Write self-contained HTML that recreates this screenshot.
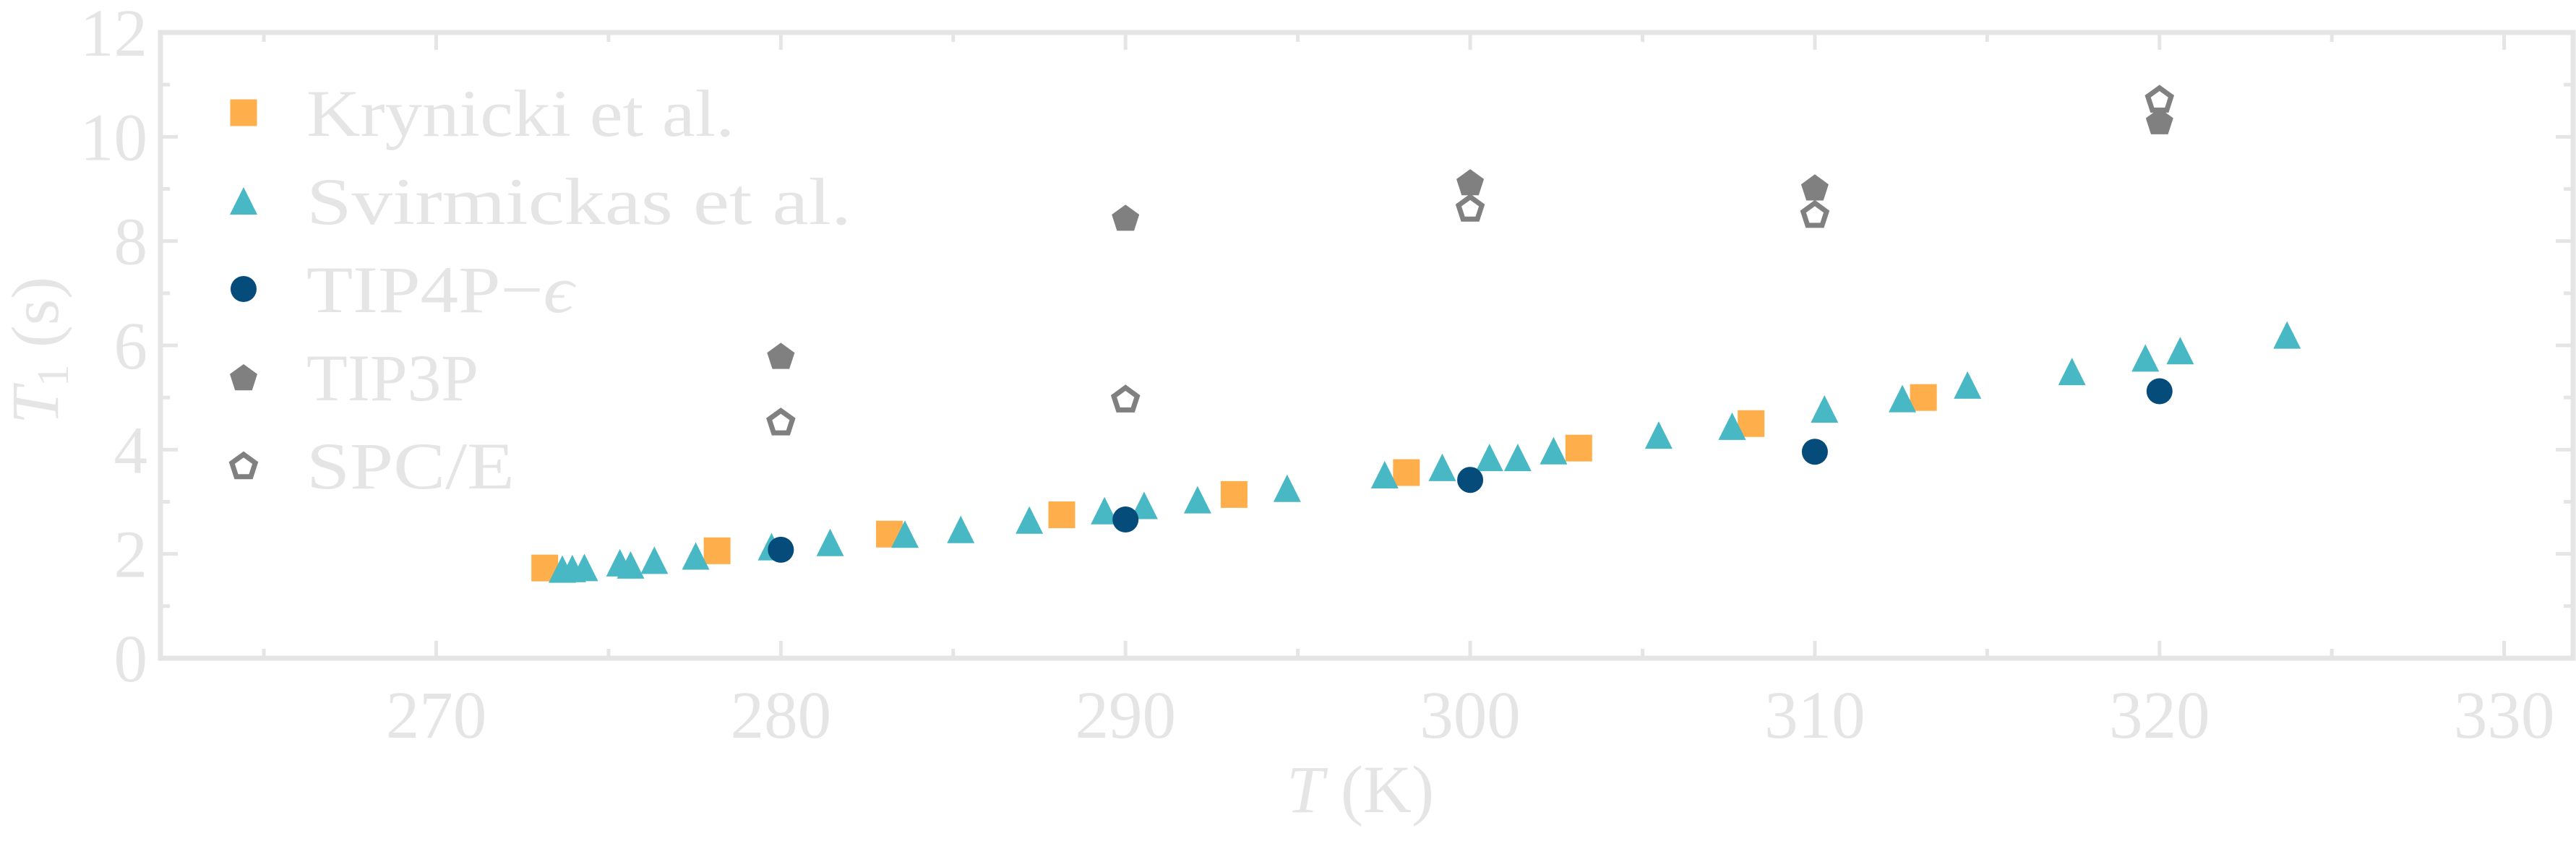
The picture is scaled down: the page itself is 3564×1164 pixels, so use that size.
<!DOCTYPE html>
<html><head><meta charset="utf-8">
<style>
html,body{margin:0;padding:0;background:#fff;}
svg{display:block;font-family:"Liberation Serif",serif;}
</style></head>
<body>
<svg id="chart" width="3564" height="1164" viewBox="0 0 3564 1164" xmlns="http://www.w3.org/2000/svg">
<g id="plot"></g>
</svg>
<script>
const xTicks = [270, 280, 290, 300, 310, 320, 330];
const yTicks = [0, 2, 4, 6, 8, 10, 12];
const kryT = [273.15, 278.15, 283.15, 288.15, 293.15, 298.15, 303.15, 308.15, 313.15];
const kryV = [1.73, 2.06, 2.38, 2.75, 3.14, 3.56, 4.03, 4.50, 5.00];
const sviT = [273.66, 273.95, 274.3, 275.33, 275.64, 276.33, 277.53, 279.73, 281.43, 283.6, 285.22, 287.21, 289.39, 290.54, 292.09, 294.69, 297.52, 299.19, 300.56, 301.38, 302.42, 305.47, 307.6, 310.28, 312.54, 314.43, 317.46, 319.59, 320.6, 323.7];
const sviV = [1.71, 1.72, 1.74, 1.83, 1.79, 1.88, 1.96, 2.14, 2.22, 2.38, 2.47, 2.65, 2.83, 2.93, 3.04, 3.26, 3.52, 3.66, 3.85, 3.85, 3.98, 4.28, 4.45, 4.78, 4.98, 5.24, 5.50, 5.76, 5.90, 6.20];
const tip4pT = [280, 290, 300, 310, 320];
const tip4pV = [2.08, 2.66, 3.42, 3.96, 5.12];
const tip3pT = [280, 290, 300, 310, 320];
const tip3pV = [5.80, 8.45, 9.13, 9.03, 10.30];
const spceT = [280, 290, 300, 310, 320];
const spceV = [4.54, 4.98, 8.64, 8.52, 10.73];

const X0 = 222, X1 = 3560, Y0 = 911, Y1 = 45;
const xMin = 262.0, xMax = 332.0, yMin = 0, yMax = 12;
function sx(v){ return X0 + (v - xMin) / (xMax - xMin) * (X1 - X0); }
function sy(v){ return Y0 - (v - yMin) / (yMax - yMin) * (Y0 - Y1); }

const NS = "http://www.w3.org/2000/svg";
const svg = document.getElementById('chart');
const plot = document.getElementById('plot');
function mk(tag, attrs, parent){
  const e = document.createElementNS(NS, tag);
  for (const k in attrs) e.setAttribute(k, attrs[k]);
  (parent || svg).appendChild(e);
  return e;
}
const AX = '#e5e5e5';
const ORANGE = '#ffae4c', TEAL = '#48b8c4', NAVY = '#054c7a', GRAY = '#808080';

for (let t = 265; t <= 330; t += 5) {
  const major = (t % 10 === 0);
  const L = major ? 24 : 13;
  const x = sx(t);
  const a = mk('line', {x1:x, y1:Y0, x2:x, y2:Y0-L, stroke:AX, 'stroke-width':5});
  
  
  const b = mk('line', {x1:x, y1:Y1, x2:x, y2:Y1+L, stroke:AX, 'stroke-width':5});
  
  
}
for (let v = 1; v <= 11; v++) {
  const major = (v % 2 === 0);
  const L = major ? 24 : 13;
  const y = sy(v);
  const a = mk('line', {x1:X0, y1:y, x2:X0+L, y2:y, stroke:AX, 'stroke-width':5});
  
  
  const b = mk('line', {x1:X1, y1:y, x2:X1-L, y2:y, stroke:AX, 'stroke-width':5});
  
  
}
const frame = mk('rect', {x:X0, y:Y1, width:X1-X0, height:Y0-Y1, fill:'none', stroke:AX, 'stroke-width':7});



xTicks.forEach(t => {
  const e = mk('text', {x:sx(t), y:1021, 'text-anchor':'middle', 'font-size':93, fill:AX});
  e.textContent = t;
  
  
});
yTicks.forEach(v => {
  const e = mk('text', {x:204, y:sy(v)+32, 'text-anchor':'end', 'font-size':93, fill:AX});
  e.textContent = v;
  
  
});

const xt = mk('text', {x:1882, y:1124, 'text-anchor':'middle', 'font-size':93, fill:AX});
xt.innerHTML = '<tspan font-style="italic">T</tspan> (K)';


const yt = mk('text', {x:0, y:0, 'text-anchor':'middle', 'font-size':93, fill:AX, transform:'translate(80,485) rotate(-90)'});
yt.innerHTML = '<tspan font-style="italic">T</tspan><tspan font-size="62" dy="14">1</tspan><tspan dy="-14"> (s)</tspan>';



function square(cx, cy, color, g){ return mk('rect', {x:cx-18.5, y:cy-18.5, width:37, height:37, fill:color}, g); }
function tri(cx, cy, color, g){
  return mk('polygon', {points:`${cx},${cy-19} ${cx-19},${cy+19} ${cx+19},${cy+19}`, fill:color}, g);
}
function circ(cx, cy, color, g){ return mk('circle', {cx:cx, cy:cy, r:18, fill:color}, g); }
function pentPts(cx, cy, r){
  const p = [];
  for (let i = 0; i < 5; i++) {
    const a = -Math.PI/2 + i * 2*Math.PI/5;
    p.push((cx + r*Math.cos(a)).toFixed(1) + ',' + (cy + r*Math.sin(a)).toFixed(1));
  }
  return p.join(' ');
}
function pent(cx, cy, color, g){ return mk('polygon', {points:pentPts(cx, cy+2, 20), fill:color}, g); }
function pentOpen(cx, cy, color, g){ return mk('polygon', {points:pentPts(cx, cy+2, 17), fill:'#fff', stroke:color, 'stroke-width':7, 'stroke-linejoin':'miter'}, g); }

function drawSeries(name, xs, ys, fn, color){
  const g = mk('g', {}, plot);
  
  
  xs.forEach((t, i) => {
    const m = fn(sx(t), sy(ys[i]), color, g);
    
    
  });
}
drawSeries('krynicki', kryT, kryV, square, ORANGE);
drawSeries('svirmickas', sviT, sviV, tri, TEAL);
drawSeries('tip4p-eps', tip4pT, tip4pV, circ, NAVY);
drawSeries('tip3p', tip3pT, tip3pV, pent, GRAY);
drawSeries('spce', spceT, spceV, pentOpen, GRAY);

const legendLabels = ['Krynicki et al.', 'Svirmickas et al.', 'TIP4P\u2212', 'TIP3P', 'SPC/E'];
const legendRowsY = [156, 278, 400, 522, 644];
const legendWidths = [592, 754, 370, 238, 288];
const legendFns = [square, tri, circ, pent, pentOpen];
const legendColors = [ORANGE, TEAL, NAVY, GRAY, GRAY];
const lg = mk('g', {});


legendLabels.forEach((lab, i) => {
  const cy = legendRowsY[i];
  const m = legendFns[i](337, cy, legendColors[i], lg);
  
  
  const t = mk('text', {x:424, y:cy+32, 'font-size':92, fill:AX, textLength:legendWidths[i], lengthAdjust:'spacingAndGlyphs'}, lg);
  t.textContent = lab;
  if (i === 2) {
    const s = document.createElementNS(NS, 'tspan');
    s.setAttribute('font-style', 'italic');
    s.textContent = '\u03f5';
    t.appendChild(s);
  }
  
  
});
</script>
</body></html>
